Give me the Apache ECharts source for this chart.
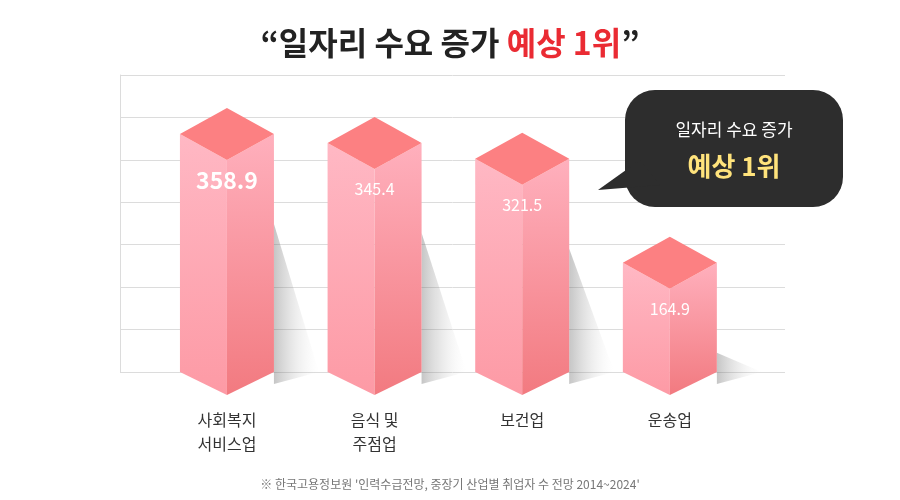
<!DOCTYPE html>
<html><head><meta charset="utf-8">
<script src="https://cdn.jsdelivr.net/npm/echarts@6/dist/echarts.min.js"></script>
<style>html,body{margin:0;padding:0;background:#fff}#c{width:900px;height:500px}</style>
</head><body><div id="c"></div>
<script>
const categories = ['사회복지\n서비스업', '음식 및\n주점업', '보건업', '운송업'];
const values = [358.9, 345.4, 321.5, 164.9];
const labels = ['358.9', '345.4', '321.5', '164.9'];

const chart = echarts.init(document.getElementById('c'));
const F = '"Noto Sans CJK KR","Noto Sans",sans-serif';
const data = values.map((v, i) => [i, v]);

function renderItem(params, api) {
  const i = api.value(0);
  const p = api.coord([i, api.value(1)]);
  const base = api.coord([i, 0])[1];
  const cx = p[0], cy = p[1], w = 47, d = 26;
  const first = i === 0;
  return {
    type: 'group',
    children: [
      { type: 'polygon', shape: { points: [[cx + w, cy + 90], [cx + w + 45, base], [cx + w, base + 12]] },
        style: { fill: new echarts.graphic.LinearGradient(0, 0, 1, 0, [{ offset: 0, color: 'rgba(90,90,90,0.35)' }, { offset: 1, color: 'rgba(220,220,220,0)' }]) } },
      { type: 'polygon', shape: { points: [[cx - w, cy], [cx, cy + d], [cx, base + 23], [cx - w, base]] },
        style: { fill: new echarts.graphic.LinearGradient(0, 0, 0, 1, [{ offset: 0, color: '#ffb8c4' }, { offset: 1, color: '#fd9aa5' }]) } },
      { type: 'polygon', shape: { points: [[cx + w, cy], [cx, cy + d], [cx, base + 23], [cx + w, base]] },
        style: { fill: new echarts.graphic.LinearGradient(0, 0, 0, 1, [{ offset: 0, color: '#ffb0bd' }, { offset: 1, color: '#f27a80' }]) } },
      { type: 'polygon', shape: { points: [[cx, cy - d], [cx + w, cy], [cx, cy + d], [cx - w, cy]] },
        style: { fill: '#fc8082' } },
      { type: 'text', x: cx, y: cy + 46,
        style: { text: labels[i], fill: '#fff', font: (first ? 'bold 23px ' : '16px ') + F, align: 'center', verticalAlign: 'middle' } },
      { type: 'text', x: cx, y: 408,
        style: { text: categories[i], fill: '#333', font: '16px ' + F, lineHeight: 24, align: 'center', verticalAlign: 'top' } }
    ]
  };
}

chart.setOption({
  animation: false,
  grid: { left: 120, right: 115, top: 75, bottom: 128 },
  xAxis: { type: 'value', min: -0.7245, max: 3.78, show: false },
  yAxis: { type: 'value', min: 0, max: 448, interval: 64,
    axisLabel: { show: false }, axisTick: { show: false },
    axisLine: { show: true, onZero: false, lineStyle: { color: '#dcdcdc' } },
    splitLine: { lineStyle: { color: '#dcdcdc' } } },
  title: {
    text: '{a|“일자리 수요 증가 }{b|예상 1위}{a|”}', left: 'center', top: 22,
    textStyle: { rich: {
      a: { fontSize: 32, fontWeight: 'bold', color: '#222', fontFamily: F },
      b: { fontSize: 32, fontWeight: 'bold', color: '#ea2b33', fontFamily: F } } }
  },
  graphic: [
    { type: 'group', z: 100, children: [
      { type: 'rect', z: 100, shape: { x: 625, y: 90, width: 218, height: 117, r: 30 }, style: { fill: '#2d2d2d' } },
      { type: 'polygon', z: 100, shape: { points: [[640, 160], [598, 190], [660, 185]] }, style: { fill: '#2d2d2d' } },
      { type: 'text', z: 101, x: 734, y: 130, style: { text: '일자리 수요 증가', fill: '#fff', font: '17px ' + F, align: 'center', verticalAlign: 'middle' } },
      { type: 'text', z: 101, x: 734, y: 166, style: { text: '예상 1위', fill: '#ffe37c', font: 'bold 26px ' + F, align: 'center', verticalAlign: 'middle' } }
    ] },
    { type: 'text', left: 'center', top: 478, style: { text: '※ 한국고용정보원 \'인력수급전망, 중장기 산업별 취업자 수 전망 2014~2024\'', fill: '#777', font: '12px ' + F } }
  ],
  series: [{ type: 'custom', renderItem, data, clip: false, z: 5 }]
});
</script></body></html>
